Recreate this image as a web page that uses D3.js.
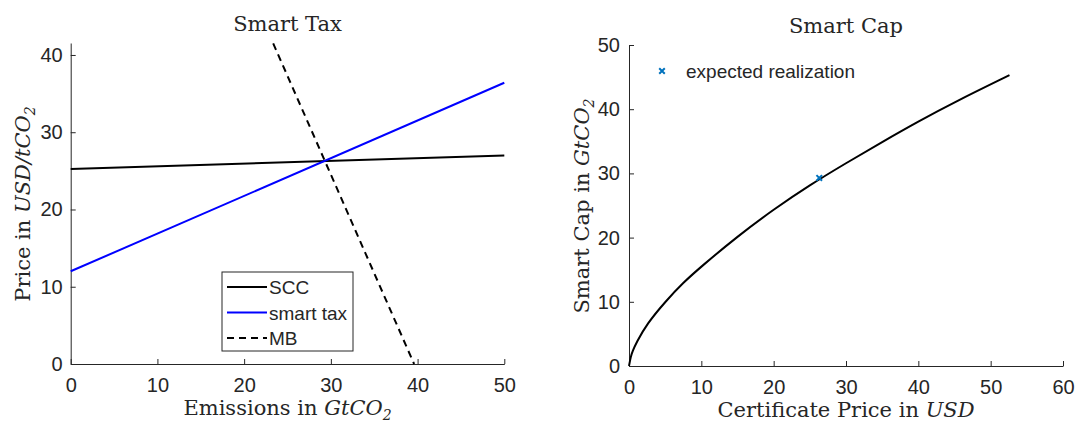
<!DOCTYPE html>
<html>
<head>
<meta charset="utf-8">
<script src="https://cdn.jsdelivr.net/npm/d3@7"></script>
<style>
  body { margin: 0; background: #fff; }
  svg text { fill: #262626; }
  .tick text { font-family: "Liberation Sans", Arial, sans-serif; font-size: 20px; }
  .ttl, .lab { font-family: "DejaVu Serif", "Liberation Serif", serif; font-size: 21px; }
  .math { font-style: italic; }
  .leg { font-family: "Liberation Sans", Arial, sans-serif; font-size: 19px; }
</style>
</head>
<body>
<svg id="chart" width="1076" height="423"></svg>
<script>
// left panel: smart tax
var emissions = [0, 50];
var sccPrice = [25.25, 27.0];
var smartTaxPrice = [12.0, 36.4];
var mbEmissions = [23.35, 39.6];
var mbPrice = [41.5, 0];
var taxXTicks = [0, 10, 20, 30, 40, 50];
var taxYTicks = [0, 10, 20, 30, 40];

// right panel: smart cap
var certPrice = [0, 0.25, 0.5, 1, 2.5, 5, 7.5, 10, 15, 20, 25, 30, 35, 40, 45, 52.6];
var smartCap = [0, 1.5, 2.3, 3.6, 6.6, 10.0, 13.0, 15.5, 20.2, 24.4, 28.2, 31.6, 34.9, 38.1, 41.1, 45.3];
var expectedPrice = [26.3];
var expectedCap = [29.3];
var capXTicks = [0, 10, 20, 30, 40, 50, 60];
var capYTicks = [0, 10, 20, 30, 40, 50];

var svg = d3.select('#chart');
var axisColor = '#262626';

function drawAxes(g, x, y, xt, yt, ypad) {
    var xa = g.append('g')
        .attr('transform', 'translate(0,' + y.range()[0] + ')')
        .call(d3.axisBottom(x).tickValues(xt).tickSizeInner(-5).tickSizeOuter(0).tickPadding(14));
    var ya = g.append('g')
        .attr('transform', 'translate(' + x.range()[0] + ',0)')
        .call(d3.axisLeft(y).tickValues(yt).tickSizeInner(-5).tickSizeOuter(0).tickPadding(ypad));
    [xa, ya].forEach(a => {
        a.select('.domain').attr('stroke', axisColor);
        a.selectAll('.tick line').attr('stroke', axisColor);
        a.selectAll('.tick text').attr('fill', axisColor);
    });
}

var line = (x, y) => d3.line().x(d => x(d[0])).y(d => y(d[1]));

function subLabel(t, main, math, sub) {
    t.append('tspan').text(main);
    t.append('tspan').attr('class', 'math').text(math);
    if (sub) {
        t.append('tspan').attr('class', 'math').attr('font-size', '14px').attr('dy', 5).text(sub);
    }
}

// ---- left panel ----
var xL = d3.scaleLinear().domain([0, 50]).range([70.7, 504.3]);
var yL = d3.scaleLinear().domain([0, 41.55]).range([364, 43]);
var gL = svg.append('g');
drawAxes(gL, xL, yL, taxXTicks, taxYTicks, 8);

gL.append('path')
    .datum(d3.zip(emissions, sccPrice))
    .attr('d', line(xL, yL))
    .attr('fill', 'none').attr('stroke', '#000').attr('stroke-width', 2);
gL.append('path')
    .datum(d3.zip(emissions, smartTaxPrice))
    .attr('d', line(xL, yL))
    .attr('fill', 'none').attr('stroke', '#0000ff').attr('stroke-width', 2);
gL.append('path')
    .datum(d3.zip(mbEmissions, mbPrice))
    .attr('d', line(xL, yL))
    .attr('fill', 'none').attr('stroke', '#000').attr('stroke-width', 2)
    .attr('stroke-dasharray', '7,5');

// legend
var legend = gL.append('g').attr('transform', 'translate(222,272)');
legend.append('rect')
    .attr('width', 131).attr('height', 79)
    .attr('fill', '#fff').attr('stroke', axisColor).attr('stroke-width', 1);
var legendItems = [
    { name: 'SCC', color: '#000', dash: null },
    { name: 'smart tax', color: '#0000ff', dash: null },
    { name: 'MB', color: '#000', dash: '7,5' }
];
legendItems.forEach((it, i) => {
    var yy = 15 + i * 25.5;
    legend.append('line')
        .attr('x1', 5).attr('x2', 45).attr('y1', yy).attr('y2', yy)
        .attr('stroke', it.color).attr('stroke-width', 2)
        .attr('stroke-dasharray', it.dash);
    legend.append('text').attr('class', 'leg')
        .attr('x', 47).attr('y', yy + 7)
        .text(it.name);
});

gL.append('text').attr('class', 'ttl')
    .attr('x', 287.5).attr('y', 31).attr('text-anchor', 'middle')
    .text('Smart Tax');

subLabel(gL.append('text').attr('class', 'lab')
    .attr('x', 287.5).attr('y', 415).attr('text-anchor', 'middle'),
    'Emissions in ', 'GtCO', '2');

subLabel(gL.append('text').attr('class', 'lab')
    .attr('transform', 'translate(30,204) rotate(-90)').attr('text-anchor', 'middle'),
    'Price in ', 'USD/tCO', '2');

// ---- right panel ----
var xR = d3.scaleLinear().domain([0, 60]).range([629, 1063]);
var yR = d3.scaleLinear().domain([0, 50]).range([366, 45]);
var gR = svg.append('g');
drawAxes(gR, xR, yR, capXTicks, capYTicks, 9);

gR.append('path')
    .datum(d3.zip(certPrice, smartCap))
    .attr('d', line(xR, yR).curve(d3.curveBasis))
    .attr('fill', 'none').attr('stroke', '#000').attr('stroke-width', 2);

var cross = d3.symbol().type(d3.symbolX).size(22);
gR.selectAll('.marker')
    .data(d3.zip(expectedPrice, expectedCap))
    .enter().append('path')
    .attr('class', 'marker')
    .attr('d', cross)
    .attr('transform', d => 'translate(' + xR(d[0]) + ',' + yR(d[1]) + ')')
    .attr('fill', 'none').attr('stroke', '#0072bd').attr('stroke-width', 2);

gR.append('path')
    .attr('d', cross)
    .attr('transform', 'translate(662,71)')
    .attr('fill', 'none').attr('stroke', '#0072bd').attr('stroke-width', 2);
gR.append('text').attr('class', 'leg')
    .attr('x', 686).attr('y', 78)
    .text('expected realization');

gR.append('text').attr('class', 'ttl')
    .attr('x', 846).attr('y', 33).attr('text-anchor', 'middle')
    .text('Smart Cap');

subLabel(gR.append('text').attr('class', 'lab')
    .attr('x', 846).attr('y', 417).attr('text-anchor', 'middle'),
    'Certificate Price in ', 'USD', null);

subLabel(gR.append('text').attr('class', 'lab')
    .attr('transform', 'translate(589,206) rotate(-90)').attr('text-anchor', 'middle'),
    'Smart Cap in ', 'GtCO', '2');
</script>
</body>
</html>
